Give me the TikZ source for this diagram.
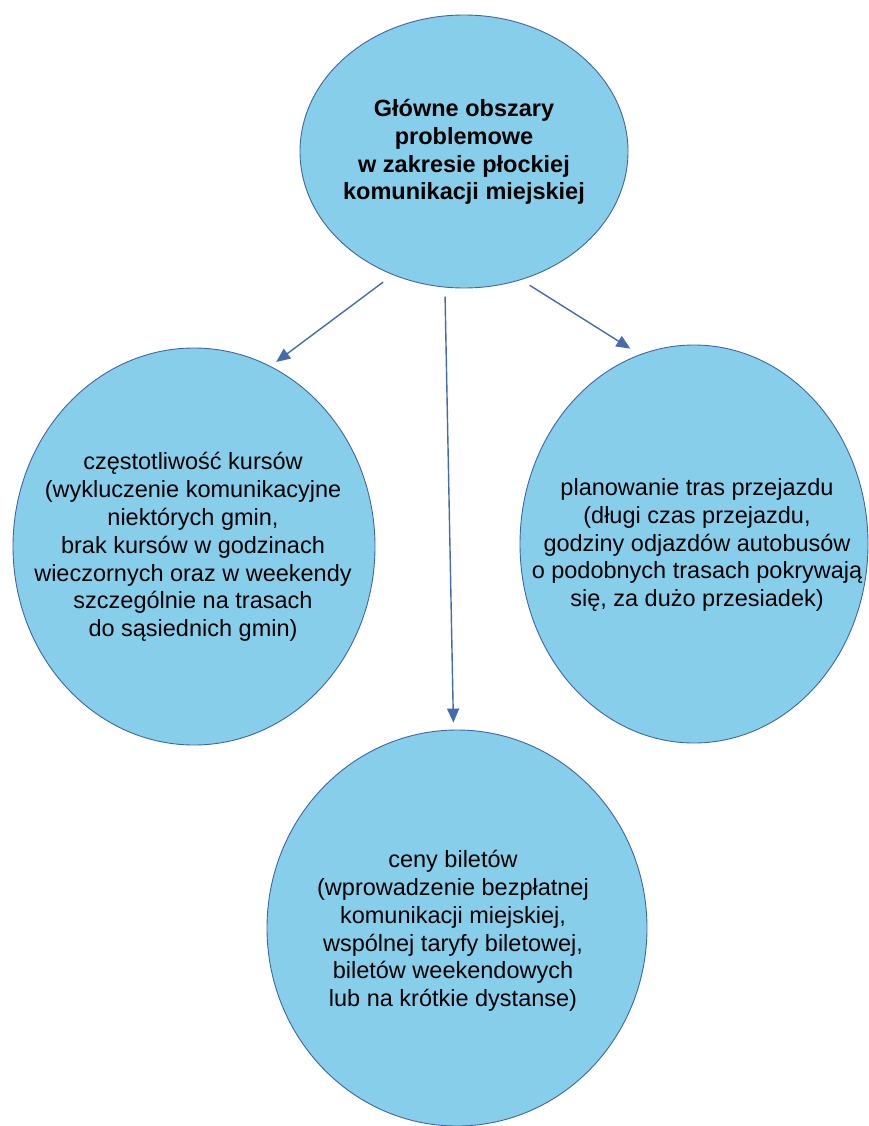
\documentclass[tikz,border=0pt]{standalone}
\usepackage{fontspec}
\setmainfont{Liberation Sans}
\usetikzlibrary{shapes.geometric, arrows.meta}
\definecolor{areafill}{RGB}{135,206,235}
\definecolor{areadraw}{RGB}{62,102,165}
\definecolor{leadcol}{RGB}{68,108,172}
\begin{document}
\begin{tikzpicture}[x=1pt, y=-1pt,
    area/.style={ellipse, draw=areadraw, fill=areafill, line width=0.9pt, inner sep=0pt},
    areatext/.style={align=center, inner sep=0pt, font=\fontsize{23.5}{27.8}\selectfont},
    coretext/.style={areatext, font=\fontsize{23.5}{27.8}\selectfont\bfseries},
    leads/.style={draw=leadcol, line width=1.4pt, -{Triangle[length=14pt, width=12pt]}}]
  \useasboundingbox (0,0) rectangle (868,1126);
  % the main question on top, the three problem areas below it
  \node[area, minimum width=328pt, minimum height=273pt] (main)  at (464,151.5) {};
  \node[area, minimum width=362pt, minimum height=397pt] (freq)  at (194,546.5) {};
  \node[area, minimum width=348pt, minimum height=398pt] (route) at (694,544)   {};
  \node[area, minimum width=380pt, minimum height=396pt] (price) at (457,928)   {};

  % texts, set on the ellipses
  \node[coretext] (mainT) at (464,152)
    {Główne obszary\\ problemowe\\ w zakresie płockiej\\ komunikacji miejskiej};
  \node[areatext] (freqT) at (193,547)
    {częstotliwość kursów\\ (wykluczenie komunikacyjne\\ niektórych gmin,\\ brak kursów w godzinach\\
     wieczornych oraz w weekendy\\ szczególnie na trasach\\ do sąsiednich gmin)};
  \node[areatext] (routeT) at (697,545)
    {planowanie tras przejazdu\\ (długi czas przejazdu,\\ godziny odjazdów autobusów\\
     o podobnych trasach pokrywają\\ się, za dużo przesiadek)};
  \node[areatext] (priceT) at (453,931)
    {ceny biletów\\ (wprowadzenie bezpłatnej\\ komunikacji miejskiej,\\ wspólnej taryfy biletowej,\\
     biletów weekendowych\\ lub na krótkie dystanse)};

  % arrows leave and reach the borders with a small gap
  \draw[leads, shorten <=12pt, shorten >=7pt] (main.240) -- (freq.67);
  \draw[leads, shorten <=9pt, shorten >=7pt] (main.262.4) -- (price.91.4);
  \draw[leads, shorten <=10pt, shorten >=11pt] (main.294.2) -- (route.106.9);
\end{tikzpicture}
\end{document}
